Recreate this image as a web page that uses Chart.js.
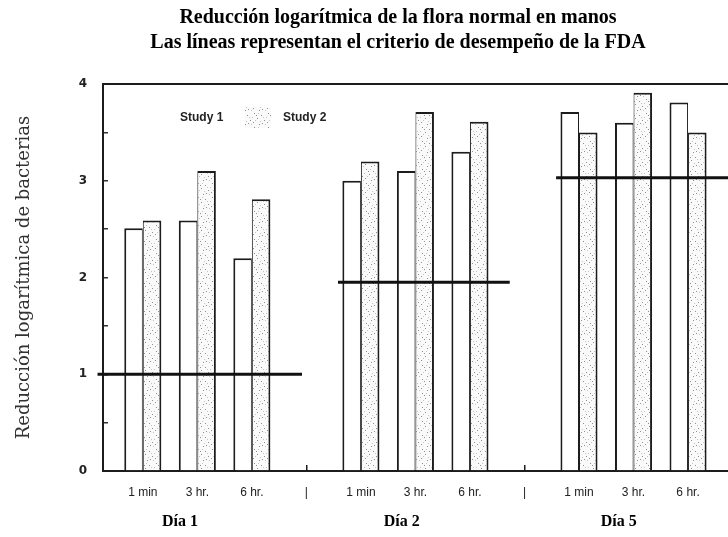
<!DOCTYPE html>
<html>
<head>
<meta charset="utf-8">
<script src="https://cdn.jsdelivr.net/npm/chart.js@4.4.0/dist/chart.umd.min.js"></script>
<style>
    html, body { margin: 0; padding: 0; overflow: hidden; background: #fff; }
    #wrap { width: 796px; height: 537px; position: relative; }
</style>
</head>
<body>
<div id="wrap"><canvas id="logChart"></canvas></div>
<script>
// data
const timeLabels = ['1 min', '3 hr.', '6 hr.', '|', '1 min', '3 hr.', '6 hr.', '|', '1 min', '3 hr.', '6 hr.', '|'];
const barSlots = [0, 1, 2, 4, 5, 6, 8, 9, 10];
const study1 = [2.51, 2.59, 2.20, 3.00, 3.10, 3.30, 3.71, 3.60, 3.81];
const study2 = [2.59, 3.10, 2.81, 3.20, 3.71, 3.61, 3.50, 3.91, 3.50];
const dayLabels = ['Día 1', 'Día 2', 'Día 5'];
const fdaCriterion = [1.0, 1.95, 3.03];
const fdaFrom = [-0.83, 3.58, 7.58];
const fdaTo = [2.92, 6.73, 11.98];
const yTicks = [0, 1, 2, 3, 4];

// where the day captions sit on the slot axis
const dayAt = [0.68, 4.75, 8.73];
const X_MIN = -0.73;
const X_MAX = 11.98;

(() => {
    const canvas = document.getElementById('logChart');
    const ctx = canvas.getContext('2d');

    // speckled fill for Study 2, fixed dot layout
    const tile = document.createElement('canvas');
    tile.width = 14;
    tile.height = 14;
    const t = tile.getContext('2d');
    t.fillStyle = '#fafafa';
    t.fillRect(0, 0, 14, 14);
    t.fillStyle = '#8f8f8f';
    [[2, 1], [9, 3], [5, 6], [12, 8], [1, 10], [7, 12], [10, 11], [4, 3]].forEach(([x, y]) => t.fillRect(x, y, 1, 1));
    t.fillStyle = '#c4c4c4';
    [[6, 1], [11, 5], [3, 8], [8, 9], [0, 5], [13, 12]].forEach(([x, y]) => t.fillRect(x, y, 1, 1));
    const speckle = ctx.createPattern(tile, 'repeat');

    const ink = '#1c1c1c';

    const studyLegend = {
        id: 'studyLegend',
        afterDraw(chart) {
            const { ctx, chartArea } = chart;
            const y = chartArea.top + 34;
            ctx.save();
            ctx.font = 'bold 12px "Liberation Sans"';
            ctx.textBaseline = 'middle';
            ctx.fillStyle = '#222';
            ctx.fillText(chart.data.datasets[0].label, chartArea.left + 77, y);
            ctx.fillStyle = speckle;
            ctx.fillRect(chartArea.left + 142, y - 11, 26, 21);
            ctx.fillStyle = '#222';
            ctx.fillText(chart.data.datasets[1].label, chartArea.left + 180, y);
            ctx.restore();
        }
    };

    const fdaLines = fdaCriterion.map((v, i) => ({
        type: 'line',
        label: 'FDA ' + dayLabels[i],
        data: [{ x: fdaFrom[i], y: v }, { x: fdaTo[i], y: v }],
        borderColor: '#111',
        borderWidth: 3,
        pointRadius: 0,
        fill: false,
        clip: false,
        xAxisID: 'x',
        yAxisID: 'y',
        order: 0,
    }));

    const hiddenAxis = (position, weight) => ({
        type: 'linear',
        min: X_MIN,
        max: X_MAX,
        offset: false,
        position,
        weight,
        grid: { display: false, drawTicks: false, offset: false },
    });

    new Chart(ctx, {
        type: 'bar',
        data: {
            datasets: [
                {
                    label: 'Study 1',
                    data: barSlots.map((x, i) => ({ x, y: study1[i] })),
                    backgroundColor: '#fff',
                    borderColor: ink,
                    borderWidth: { top: 2, left: 2, right: 1, bottom: 0 },
                    categoryPercentage: 0.68,
                    barPercentage: 1,
                    xAxisID: 'x',
                    yAxisID: 'y',
                    order: 1,
                },
                {
                    label: 'Study 2',
                    data: barSlots.map((x, i) => ({ x, y: study2[i] })),
                    backgroundColor: speckle,
                    borderColor: ink,
                    borderWidth: { top: 2, left: 1, right: 2, bottom: 0 },
                    categoryPercentage: 0.68,
                    barPercentage: 1,
                    xAxisID: 'x',
                    yAxisID: 'y',
                    order: 1,
                },
                ...fdaLines
            ]
        },
        options: {
            responsive: true,
            maintainAspectRatio: false,
            animation: false,
            events: [],
            layout: { padding: 0 },
            plugins: {
                legend: { display: false },
                tooltip: { enabled: false },
                title: {
                    display: true,
                    text: ['Reducción logarítmica de la flora normal en manos', 'Las líneas representan el criterio de desempeño de la FDA'],
                    color: '#000',
                    font: { family: 'Liberation Serif', size: 20, weight: 'bold', lineHeight: 1.25 },
                    padding: { top: 5, bottom: 29 }
                }
            },
            scales: {
                x: {
                    ...hiddenAxis('bottom', 0),
                    afterBuildTicks: s => { s.ticks = timeLabels.map((_, i) => ({ value: i })); },
                    afterFit: s => { s.height = 28; },
                    // short upward marks only at the day separators
                    grid: {
                        display: true,
                        drawOnChartArea: false,
                        drawTicks: true,
                        tickLength: -6,
                        offset: false,
                        lineWidth: 1.5,
                        color: c => timeLabels[c.index] === '|' ? ink : 'rgba(0,0,0,0)'
                    },
                    ticks: {
                        autoSkip: false,
                        maxRotation: 0,
                        padding: 20,
                        color: '#222',
                        font: { family: 'Liberation Sans', size: 12 },
                        callback: v => timeLabels[v]
                    },
                    border: { display: true, color: ink, width: 2 }
                },
                xDay: {
                    ...hiddenAxis('bottom', 1),
                    afterBuildTicks: s => { s.ticks = dayAt.map(v => ({ value: v })); },
                    afterFit: s => { s.height = 38; },
                    ticks: {
                        autoSkip: false,
                        maxRotation: 0,
                        padding: 13,
                        color: '#000',
                        font: { family: 'Liberation Serif', size: 16, weight: 'bold' },
                        callback: (v, i) => dayLabels[i]
                    },
                    border: { display: false }
                },
                xTop: {
                    ...hiddenAxis('top', 0),
                    afterFit: s => { s.height = 0; },
                    ticks: { display: false },
                    border: { display: true, color: ink, width: 2 }
                },
                y: {
                    min: 0,
                    max: 4,
                    afterFit: s => { s.width = 103; },
                    ticks: {
                        stepSize: 0.5,
                        autoSkip: false,
                        padding: 21,
                        color: '#222',
                        font: { family: 'DejaVu Sans', size: 12, weight: 'bold' },
                        callback: v => yTicks.includes(v) ? String(v) : ''
                    },
                    // marks point into the plot, as in the scan
                    grid: { drawOnChartArea: false, drawTicks: true, tickLength: -5, color: '#333', lineWidth: 1.5 },
                    border: { display: true, color: ink, width: 2 },
                    title: {
                        display: true,
                        text: 'Reducción logarítmica de bacterias',
                        color: '#333',
                        font: { family: 'DejaVu Serif', size: 18 },
                        padding: { top: 14, bottom: 0 }
                    }
                }
            }
        },
        plugins: [studyLegend]
    });
})();
</script>
</body>
</html>
